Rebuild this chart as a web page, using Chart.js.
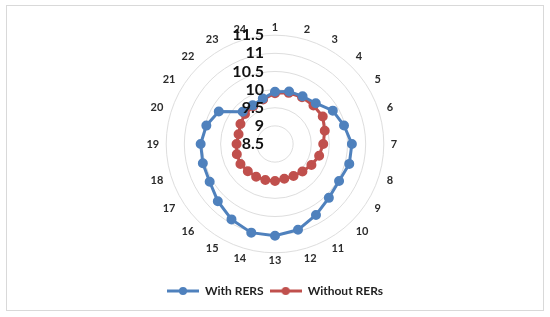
<!DOCTYPE html>
<html>
<head>
<meta charset="utf-8">
<script src="https://cdn.jsdelivr.net/npm/chart.js@4.4.1/dist/chart.umd.min.js"></script>
<style>
  body { margin: 0; background: #fff; }
  #wrap { position: relative; width: 550px; height: 317px; }
</style>
</head>
<body>
<div id="wrap"><canvas id="chart"></canvas></div>
<script>
// data
var categories = ['1','2','3','4','5','6','7','8','9','10','11','12',
                  '13','14','15','16','17','18','19','20','21','22','23','24'];
var withRers = [9.94, 10.0, 10.02, 10.09, 10.34, 10.47, 10.62, 10.62, 10.54, 10.6, 10.76, 10.95,
                11.03, 11.03, 10.9, 10.73, 10.58, 10.56, 10.55, 10.46, 10.29, 9.76, 9.73, 9.8];
var withoutRers = [9.9, 9.96, 9.99, 10.0, 10.02, 9.92, 9.83, 9.76, 9.66, 9.57, 9.52, 9.49,
                   9.52, 9.53, 9.54, 9.56, 9.6, 9.59, 9.56, 9.54, 9.6, 9.67, 9.7, 9.77];
var tickValues = [8.5, 9, 9.5, 10, 10.5, 11, 11.5];
var tickLabels = ['8.5', '9', '9.5', '10', '10.5', '11', '11.5'];

var BLUE = '#4f81bd';
var RED = '#c0504d';

// legend marker: line with a dot in the middle
function legendMark(color) {
    var c = document.createElement('canvas');
    c.width = 32; c.height = 10;
    var g = c.getContext('2d');
    g.strokeStyle = color;
    g.lineWidth = 3;
    g.beginPath(); g.moveTo(0, 5); g.lineTo(32, 5); g.stroke();
    g.fillStyle = color;
    g.beginPath(); g.arc(16, 5, 4, 0, Math.PI * 2); g.fill();
    return c;
}

// value axis labels, right-aligned left of the vertical axis
var tickPlugin = {
    id: 'tickText',
    afterDatasetsDraw: function(chart) {
        var s = chart.scales.r;
        var ctx = chart.ctx;
        ctx.save();
        ctx.font = 'bold 16px Lato, "Open Sans", sans-serif';
        ctx.fillStyle = '#111';
        ctx.textAlign = 'right';
        ctx.textBaseline = 'middle';
        for (var i = 0; i < tickValues.length; i++) {
            var d = s.getDistanceFromCenterForValue(tickValues[i]);
            ctx.fillText(tickLabels[i], s.xCenter - 11, s.yCenter - d);
        }
        ctx.restore();
    }
};

var framePlugin = {
    id: 'frame',
    beforeDraw: function(chart) {
        var ctx = chart.ctx;
        ctx.save();
        ctx.fillStyle = '#fff';
        ctx.fillRect(0, 0, chart.width, chart.height);
        ctx.strokeStyle = '#d9d9d9';
        ctx.lineWidth = 1;
        ctx.strokeRect(6.5, 5.5, 537, 305);
        ctx.restore();
    }
};

var ctx = document.getElementById('chart').getContext('2d');
new Chart(ctx, {
    type: 'radar',
    data: {
        labels: categories,
        datasets: [{
            label: 'With RERS',
            data: withRers,
            borderColor: BLUE,
            backgroundColor: BLUE,
            pointBackgroundColor: BLUE,
            pointBorderColor: BLUE,
            borderWidth: 3,
            pointRadius: 3.5,
            fill: false
        }, {
            label: 'Without RERs',
            data: withoutRers,
            borderColor: RED,
            backgroundColor: RED,
            pointBackgroundColor: RED,
            pointBorderColor: RED,
            borderWidth: 3,
            pointRadius: 3.5,
            fill: false
        }]
    },
    options: {
        responsive: true,
        maintainAspectRatio: false,
        animation: false,
        layout: { padding: { top: 21, bottom: 10, left: 0, right: 0 } },
        elements: { line: { tension: 0 }, point: { pointStyle: 'circle' } },
        scales: {
            r: {
                min: 8.5,
                max: 11.5,
                ticks: { stepSize: 0.5, display: false },
                grid: { circular: true, color: '#dedede', lineWidth: 1 },
                angleLines: { display: false },
                pointLabels: {
                    // side labels sit a bit further out, as in Excel
                    padding: function(c) {
                        return 1 + 6 * Math.abs(Math.sin(c.index * Math.PI / 12));
                    },
                    color: '#2b2b2b',
                    font: { family: 'Lato, "Open Sans", sans-serif', size: 11, weight: 'bold' }
                }
            }
        },
        plugins: {
            tooltip: { enabled: false },
            legend: {
                position: 'bottom',
                title: { display: true, text: ' ', padding: { top: 7, bottom: 0 }, font: { size: 4 } },
                labels: {
                    usePointStyle: true,
                    pointStyleWidth: 32,
                    padding: 6,
                    color: '#222',
                    font: { family: 'Lato, "Open Sans", sans-serif', size: 12, weight: 'bold' },
                    generateLabels: function(chart) {
                        return chart.data.datasets.map(function(ds, i) {
                            return {
                                text: ds.label,
                                pointStyle: legendMark(ds.borderColor),
                                fillStyle: ds.borderColor,
                                strokeStyle: ds.borderColor,
                                lineWidth: 0,
                                datasetIndex: i,
                                fontColor: '#222'
                            };
                        });
                    }
                }
            }
        }
    },
    plugins: [framePlugin, tickPlugin]
});
</script>
</body>
</html>
